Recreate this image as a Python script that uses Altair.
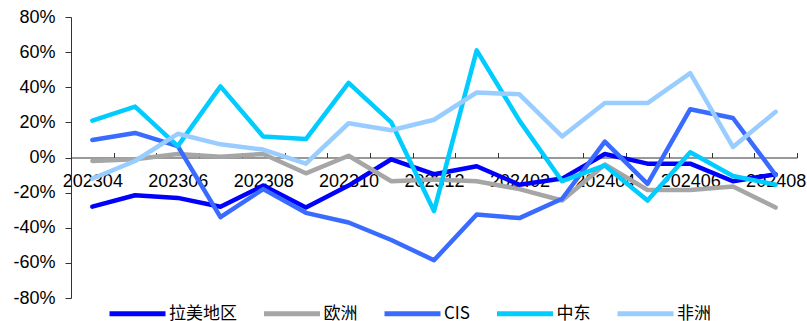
import altair as alt
import pandas as pd

# Monthly growth rates (%) by region
months = ["202304", "202305", "202306", "202307", "202308", "202309", "202310",
          "202311", "202312", "202401", "202402", "202403", "202404", "202405",
          "202406", "202407", "202408"]

latam = [-28, -21.5, -23, -28, -16, -28.5, -16, -1, -9.5, -5, -15.5, -12, 2, -3.5, -3.5, -13.5, -9.5]
europe = [-2, -1, 2, 0.5, 2, -9, 1, -13.5, -12.5, -13.5, -18, -24.5, -4, -18.5, -18.5, -16.5, -28.5]
cis = [10, 14, 6.5, -34, -18, -31.5, -37, -47, -58.5, -32.5, -34.5, -23.5, 9, -15, 27.5, 22.5, -10]
mideast = [21, 29, 6.5, 40.5, 12, 10.5, 42.5, 20, -30.5, 61, 21, -13.5, -4.5, -24.5, 3, -10.5, -15.5]
africa = [-12, -2, 13.5, 7.5, 4.5, -3.5, 19.5, 15.5, 21.5, 37, 36, 12, 31, 31, 48, 6, 26]

series_names = ["拉美地区", "欧洲", "CIS", "中东", "非洲"]
series_values = [latam, europe, cis, mideast, africa]
series_colors = ["#0000FF", "#A6A6A6", "#3A6BFF", "#00CCFF", "#99CCFF"]

rows = []
for name, vals in zip(series_names, series_values):
    for i, (m, v) in enumerate(zip(months, vals)):
        rows.append({"idx": i, "month": m, "region": name, "value": v})
df = pd.DataFrame(rows)

W, H = 726, 281
Y_MIN, Y_MAX = -80, 80
zero_px = H * (Y_MAX - 0) / (Y_MAX - Y_MIN)

label_array = "[" + ",".join("'%s'" % m for m in months) + "]"

x_scale = alt.Scale(domain=[-0.5, len(months) - 0.5], nice=False, zero=False)
y_scale = alt.Scale(domain=[Y_MIN, Y_MAX], nice=False, zero=False)
color_scale = alt.Scale(domain=series_names, range=series_colors)

font = "Liberation Sans"

# x axis with labels, sitting on the zero line
x_label_axis = alt.Axis(
    orient="bottom", offset=-(H - zero_px), values=list(range(0, len(months), 2)),
    labelExpr=label_array + "[datum.value]", ticks=False, tickSize=0,
    domain=True, domainColor="#333333", domainWidth=1, grid=False, title=None,
    labelFont=font, labelFontSize=18, labelColor="#000000",
    labelBaseline="alphabetic", labelPadding=29, labelFlush=False, labelOverlap=False,
)
# inward tick marks at category boundaries
x_tick_axis = alt.Axis(
    orient="top", offset=-zero_px, values=[i - 0.5 for i in range(len(months) + 1)],
    labels=False, ticks=True, tickSize=5, tickColor="#333333", domain=False,
    grid=False, title=None,
)
y_axis = alt.Axis(
    values=list(range(Y_MIN, Y_MAX + 1, 20)), labelExpr="datum.value + '%'",
    tickSize=6, tickColor="#333333", domainColor="#333333", grid=False, title=None,
    labelFont=font, labelFontSize=18, labelColor="#000000", labelPadding=10,
)

legend = alt.Legend(
    title=None, orient="none", legendX=36, legendY=266, direction="horizontal",
    columns=5, symbolType="stroke", symbolSize=3136, symbolStrokeWidth=5,
    labelFont="Noto Sans CJK SC", labelFontSize=17, labelColor="#000000",
    labelOffset=1, columnPadding=16.5, padding=0,
)

layers = []
for name in series_names:
    layers.append(
        alt.Chart(df).transform_filter(alt.datum.region == name)
        .mark_line(strokeWidth=4.5, strokeJoin="round", strokeCap="round")
        .encode(
            x=alt.X("idx:Q", scale=x_scale, axis=x_label_axis),
            y=alt.Y("value:Q", scale=y_scale, axis=y_axis),
            color=alt.Color("region:N", scale=color_scale, legend=legend,
                            sort=series_names),
        )
    )
lines = alt.layer(*layers)

ticks_layer = alt.Chart(df).mark_point(opacity=0).encode(
    x=alt.X("idx:Q", scale=x_scale, axis=x_tick_axis),
    y=alt.Y("value:Q", scale=y_scale, axis=None),
)

chart = alt.layer(ticks_layer, lines).resolve_axis(
    x="independent", y="independent"
).properties(
    width=W, height=H,
    autosize=alt.AutoSizeParams(type="none"),
    padding={"left": 71, "top": 17, "right": 10, "bottom": 23},
    background="#FFFFFF",
).configure_view(stroke=None)

chart.save("out.html", embed_options={"renderer": "svg", "actions": False})
